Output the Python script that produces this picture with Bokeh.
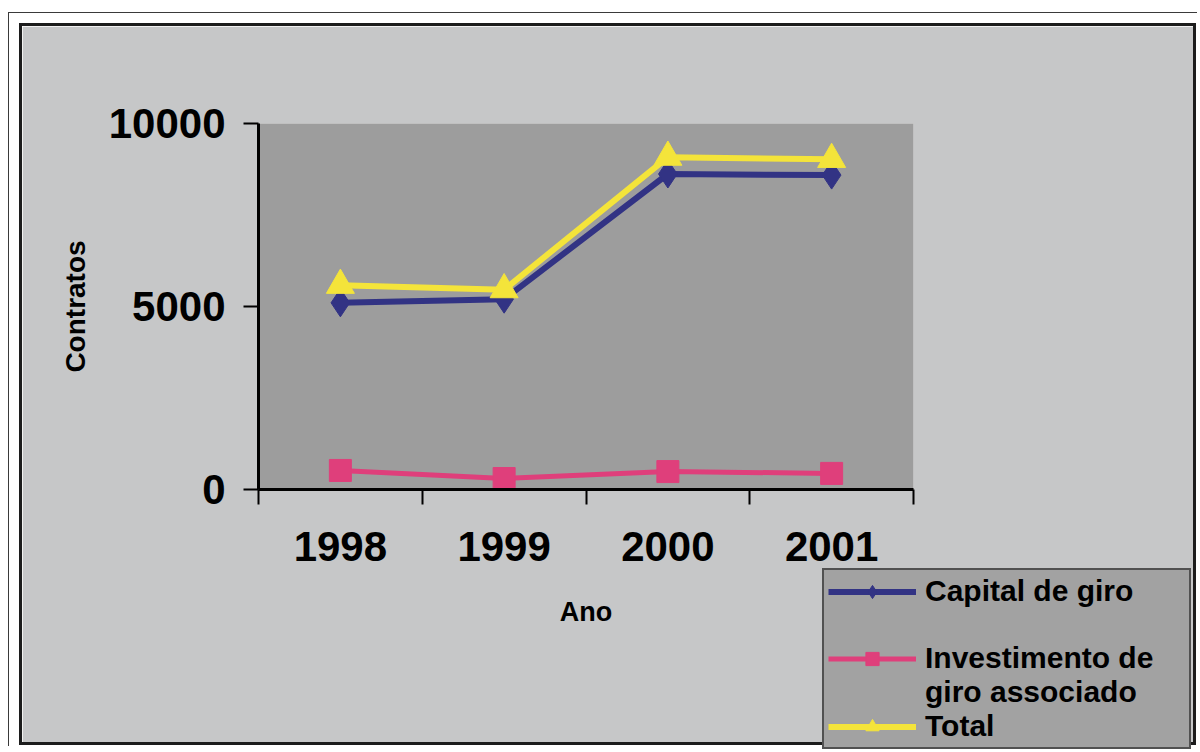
from bokeh.plotting import figure
from bokeh.models import Range1d, FixedTicker, Legend, LegendItem
from bokeh.layouts import column
from bokeh.embed import file_html
from bokeh.resources import INLINE

# ---- data ----
years = ["1998", "1999", "2000", "2001"]
capital_de_giro = [5100, 5200, 8620, 8590]
investimento_giro = [520, 300, 490, 440]
total = [5580, 5460, 9080, 9020]
y_ticks = [0, 5000, 10000]
series_names = ["Capital de giro", "Investimento de", "giro associado", "Total"]
x_title = "Ano"
y_title = "Contratos"

xs = [i + 0.5 for i in range(len(years))]
bounds = [float(i) for i in range(len(years) + 1)]

FONT = "Liberation Sans"
BLUE = "#323384"
PINK = "#df3f7b"
YELLOW = "#f4e43a"

p = figure(width=1171, height=716,
           x_range=Range1d(0, len(years)), y_range=Range1d(0, 10000),
           output_backend="svg", toolbar_location=None,
           min_border_left=236, min_border_right=280,
           min_border_top=97, min_border_bottom=253,
           background_fill_color="#9d9d9d", border_fill_color="#c6c7c8",
           outline_line_color=None)
p.styles = {"outline": "3px solid #1c1c1c"}
p.grid.visible = False

# x axis
xa = p.xaxis[0]
xa.ticker = FixedTicker(ticks=xs, minor_ticks=bounds)
xa.major_label_overrides = {x: y for x, y in zip(xs, years)}
xa.major_tick_out = 0
xa.major_tick_in = 0
xa.minor_tick_out = 15
xa.minor_tick_in = 0
xa.minor_tick_line_color = "black"
xa.minor_tick_line_width = 2
xa.axis_line_color = "black"
xa.axis_line_width = 3
xa.major_label_standoff = 27
xa.major_label_text_font = FONT
xa.major_label_text_font_style = "bold"
xa.major_label_text_font_size = "42px"
xa.major_label_text_color = "black"
xa.axis_label = x_title
xa.axis_label_text_font = FONT
xa.axis_label_text_font_style = "bold"
xa.axis_label_text_font_size = "27px"
xa.axis_label_text_color = "black"
xa.axis_label_standoff = 33

# y axis
ya = p.yaxis[0]
ya.ticker = FixedTicker(ticks=y_ticks)
ya.major_tick_out = 15
ya.major_tick_in = 0
ya.major_tick_line_color = "black"
ya.major_tick_line_width = 2
ya.minor_tick_line_color = None
ya.axis_line_color = "black"
ya.axis_line_width = 3
ya.major_label_standoff = 18
ya.major_label_text_font = FONT
ya.major_label_text_font_style = "bold"
ya.major_label_text_font_size = "42px"
ya.major_label_text_color = "black"
ya.axis_label = y_title
ya.axis_label_text_font = FONT
ya.axis_label_text_font_style = "bold"
ya.axis_label_text_font_size = "28px"
ya.axis_label_text_color = "black"
ya.axis_label_standoff = 15

# series
pl = p.line(xs, investimento_giro, line_color=PINK, line_width=5)
pm = p.scatter(xs, investimento_giro, marker="square", size=22,
               fill_color=PINK, line_color=PINK)
bl = p.line(xs, capital_de_giro, line_color=BLUE, line_width=6)
bm = p.scatter(xs, capital_de_giro, marker="diamond", size=28,
               fill_color=BLUE, line_color=BLUE)
yl = p.line(xs, total, line_color=YELLOW, line_width=6)
ym = p.scatter(xs, total, marker="triangle", size=28,
               fill_color=YELLOW, line_color=YELLOW)
dummy = p.line(x=[], y=[], line_alpha=0)

legend = Legend(items=[
    LegendItem(label=series_names[0], renderers=[bl, bm]),
    LegendItem(label=" ", renderers=[dummy]),
    LegendItem(label=series_names[1], renderers=[pl, pm]),
    LegendItem(label=series_names[2], renderers=[dummy]),
    LegendItem(label=series_names[3], renderers=[yl, ym]),
], location=(-91, -260))
legend.label_text_font = FONT
legend.label_text_font_style = "bold"
legend.label_text_font_size = "30px"
legend.label_text_color = "black"
legend.label_standoff = 9
legend.glyph_width = 88
legend.glyph_height = 33
legend.label_height = 33
legend.label_width = 260
legend.spacing = 0
legend.padding = 4
legend.margin = -251
legend.border_line_color = "black"
legend.border_line_width = 2
legend.background_fill_color = "#a2a2a2"
legend.background_fill_alpha = 1
p.add_layout(legend, "right")

layout = column(p, styles={"margin-left": "8px", "margin-top": "12px",
                           "border-left": "1px solid #3a3a3a",
                           "border-top": "1px solid #3a3a3a",
                           "padding-left": "13px", "padding-top": "13px",
                           "padding-right": "4px", "padding-bottom": "4px",
                           "background-color": "white"})

open("out.html", "w").write(file_html(layout, INLINE))
